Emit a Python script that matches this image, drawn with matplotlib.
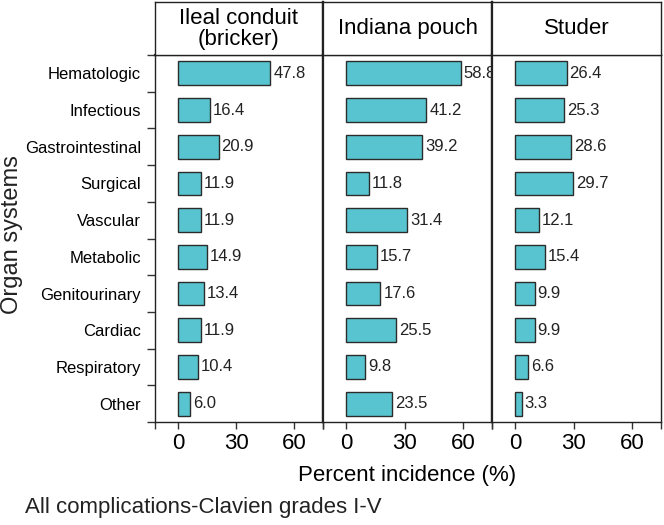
import matplotlib.pyplot as plt
import numpy as np

plt.rcParams['font.family'] = ['Liberation Sans', 'DejaVu Sans']

categories = ["Hematologic", "Infectious", "Gastrointestinal", "Surgical", "Vascular",
              "Metabolic", "Genitourinary", "Cardiac", "Respiratory", "Other"]
panel_titles = ["Ileal conduit\n(bricker)", "Indiana pouch", "Studer"]
ileal = [47.8, 16.4, 20.9, 11.9, 11.9, 14.9, 13.4, 11.9, 10.4, 6.0]
indiana = [58.8, 41.2, 39.2, 11.8, 31.4, 15.7, 17.6, 25.5, 9.8, 23.5]
studer = [26.4, 25.3, 28.6, 29.7, 12.1, 15.4, 9.9, 9.9, 6.6, 3.3]
series = [ileal, indiana, studer]
xticks = [0, 30, 60]

W, H = 664, 525
fig = plt.figure(figsize=(W / 100, H / 100), dpi=100)

lefts = [155, 323, 492]
rights = [323, 492, 661]
top_px, bot_px = 55, 422
head_top = 2

bar_color = '#57c4cf'
edge = '#2b2b2b'
y = np.arange(len(categories))

for i in range(3):
    l, r = lefts[i], rights[i]
    ax = fig.add_axes([l / W, 1 - bot_px / H, (r - l) / W, (bot_px - top_px) / H])
    vals = series[i]
    ax.barh(y, vals, height=0.65, color=bar_color, edgecolor=edge, linewidth=1.0)
    for yy, v in zip(y, vals):
        ax.text(v + 1.5, yy, f"{v:.1f}", va='center', ha='left', fontsize=12, color='#222222')
    ax.set_xlim(-12, 75)
    ax.set_ylim(len(categories) - 0.5, -0.5)
    ax.set_xticks(xticks)
    ax.set_xticklabels([str(t) for t in xticks], fontsize=16)
    ax.set_xticks([-12, 75], minor=True)
    ax.tick_params(axis='x', which='both', direction='out', length=5, width=1, color='#333333', pad=3)
    if i == 0:
        ax.set_yticks(y)
        ax.set_yticklabels(categories, fontsize=12)
        ax.set_yticks(np.arange(len(categories) + 1) - 0.5, minor=True)
        ax.tick_params(axis='y', which='major', length=0, pad=10)
        ax.tick_params(axis='y', which='minor', direction='out', length=6, width=1, color='#333333')
    else:
        ax.set_yticks([])
    for name, sp in ax.spines.items():
        sp.set_color('#222222')
        sp.set_linewidth(1.0)
    if i > 0:
        ax.spines['left'].set_linewidth(1.6)
    if i < 2:
        ax.spines['right'].set_linewidth(1.6)
    ax.spines['top'].set_linewidth(1.6)
    if i == 1:
        ax.set_xlabel("Percent incidence (%)", fontsize=16, labelpad=8)

    hx = fig.add_axes([l / W, 1 - top_px / H, (r - l) / W, (top_px - head_top) / H])
    hx.set_xticks([])
    hx.set_yticks([])
    for sp in hx.spines.values():
        sp.set_color('#222222')
        sp.set_linewidth(1.0)
    if i > 0:
        hx.spines['left'].set_linewidth(1.6)
    if i < 2:
        hx.spines['right'].set_linewidth(1.6)
    hx.text(0.5, 0.5, panel_titles[i], ha='center', va='center', fontsize=16,
            transform=hx.transAxes, linespacing=1.0)

fig.text(12 / W, 1 - 235 / H, "Organ systems", fontsize=17, rotation=90,
         ha='center', va='center', color='#222222')
fig.text(25 / W, 1 - 507 / H, "All complications-Clavien grades I-V", fontsize=16,
         ha='left', va='center', color='#222222')

fig.savefig('out.png', dpi=100)
